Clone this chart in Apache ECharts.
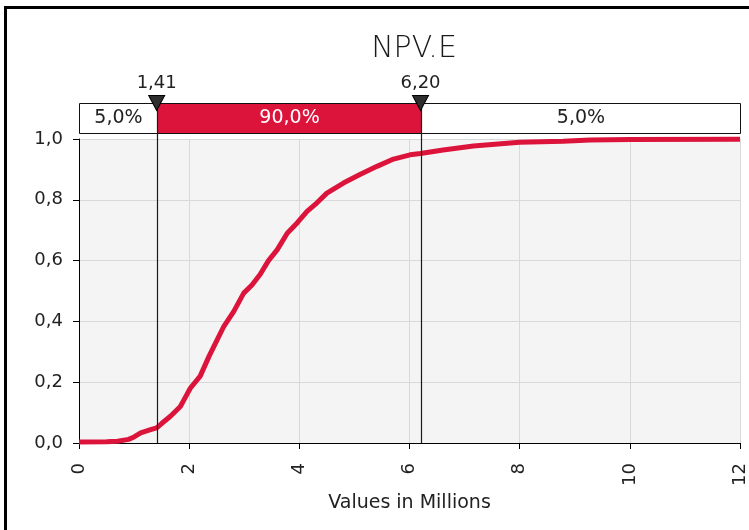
<!DOCTYPE html>
<html><head><meta charset="utf-8">
<script src="https://cdn.jsdelivr.net/npm/echarts@6/dist/echarts.min.js"></script>
<style>html,body{margin:0;padding:0;background:#fff}#c{width:749px;height:530px}</style>
</head><body><div id="c"></div>
<script>
// ---- data ----
const curveX = [0, 0.5, 0.7, 0.9, 1.0, 1.12, 1.3, 1.41, 1.5, 1.66, 1.84, 1.93, 2.02, 2.2, 2.36, 2.51, 2.63, 2.81, 2.99, 3.14, 3.29, 3.44, 3.6, 3.78, 3.96, 4.14, 4.32, 4.5, 4.8, 5.1, 5.41, 5.71, 6.01, 6.2, 6.61, 7.16, 8.0, 8.79, 9.28, 10.0, 12.0];
const curveY = [0.003, 0.004, 0.006, 0.012, 0.02, 0.033, 0.044, 0.05, 0.064, 0.088, 0.12, 0.15, 0.18, 0.22, 0.285, 0.34, 0.384, 0.433, 0.493, 0.52, 0.555, 0.6, 0.636, 0.69, 0.724, 0.762, 0.79, 0.822, 0.855, 0.883, 0.91, 0.934, 0.948, 0.952, 0.964, 0.977, 0.989, 0.993, 0.997, 0.998, 0.999];
const markerValues = [1.41, 6.20];
const markerLabels = ['1,41', '6,20'];
const bandStarts = [0, 1.41, 6.20];
const bandEnds = [1.41, 6.20, 12];
const bandLabels = ['5,0%', '90,0%', '5,0%'];
const bandHighlighted = [false, true, false];
const titleText = 'NPV.E';
const xAxisName = 'Values in Millions';

// ---- chart ----
const FONT = 'DejaVu Sans';
const RED = '#DC143C';
const TXT = '#222';
const chart = echarts.init(document.getElementById('c'), null, {renderer: 'canvas'});
const px = v => Math.round(v) + 0.5;

const hiddenAxis = {show: false};
chart.setOption({
  animation: false,
  title: {
    text: titleText, left: 409, top: 29, textAlign: 'center',
    textStyle: {fontFamily: FONT, fontSize: 30, fontWeight: 200, color: '#1a1a1a'}
  },
  graphic: [{
    type: 'rect', silent: true, z: 100,
    shape: {x: 5.5, y: 7.5, width: 900, height: 900},
    style: {fill: null, stroke: '#000', lineWidth: 3}
  }],
  grid: [
    {left: 79, right: 9, top: 139, bottom: 87, show: true, backgroundColor: '#f4f4f4', borderWidth: 0},
    {left: 79, right: 9, top: 103, height: 30},
    {left: 79, right: 9, top: 103, bottom: 87}
  ],
  xAxis: [
    {
      type: 'value', gridIndex: 0, min: 0, max: 12, interval: 2,
      axisLine: {show: true, lineStyle: {color: '#000', width: 1}},
      axisTick: {show: true, length: 6, lineStyle: {color: '#000'}},
      axisLabel: {rotate: 90, margin: 20, fontFamily: FONT, fontSize: 18, color: TXT},
      splitLine: {show: true, lineStyle: {color: '#d9d9d9', width: 1}},
      name: xAxisName, nameLocation: 'middle', nameGap: 50,
      nameTextStyle: {fontFamily: FONT, fontSize: 19, color: TXT}
    },
    Object.assign({type: 'value', gridIndex: 1, min: 0, max: 12}, hiddenAxis),
    Object.assign({type: 'value', gridIndex: 2, min: 0, max: 12}, hiddenAxis)
  ],
  yAxis: [
    {
      type: 'value', gridIndex: 0, min: 0, max: 1, interval: 0.2,
      axisLine: {show: true, lineStyle: {color: '#000', width: 1}},
      axisTick: {show: true, length: 6, lineStyle: {color: '#000'}},
      axisLabel: {margin: 16, fontFamily: FONT, fontSize: 18, color: TXT,
        formatter: v => v.toFixed(1).replace('.', ',')},
      splitLine: {show: true, lineStyle: {color: '#d9d9d9', width: 1}}
    },
    Object.assign({type: 'value', gridIndex: 1, min: 0, max: 1}, hiddenAxis),
    Object.assign({type: 'value', gridIndex: 2, min: 0, max: 1}, hiddenAxis)
  ],
  series: [
    {
      type: 'line', xAxisIndex: 0, yAxisIndex: 0, z: 3, clip: false,
      data: curveX.map((x, i) => [x, curveY[i]]),
      showSymbol: false, symbol: 'none',
      lineStyle: {color: RED, width: 5}
    },
    {
      type: 'custom', xAxisIndex: 1, yAxisIndex: 1, z: 4,
      data: bandStarts.map((s, i) => [s, bandEnds[i], i]),
      encode: {x: [0, 1]},
      renderItem: (params, api) => {
        const a = api.coord([api.value(0), 1]);
        const b = api.coord([api.value(1), 0]);
        const i = api.value(2);
        const x0 = px(a[0]), y0 = px(a[1]), x1 = px(b[0]), y1 = px(b[1]);
        return {
          type: 'rect',
          shape: {x: x0, y: y0, width: x1 - x0, height: y1 - y0},
          style: {fill: bandHighlighted[i] ? RED : '#fff', stroke: '#111', lineWidth: 1},
          textContent: {style: {text: bandLabels[i], fill: bandHighlighted[i] ? '#fff' : TXT,
            font: '19px "' + FONT + '"'}},
          textConfig: {position: 'inside'}
        };
      }
    },
    {
      type: 'custom', xAxisIndex: 2, yAxisIndex: 2, z: 6,
      data: markerValues.map(v => [v]),
      encode: {x: 0},
      renderItem: (params, api) => {
        const a = api.coord([api.value(0), 1]);
        const b = api.coord([api.value(0), 0]);
        const x = px(a[0]);
        return {type: 'line', shape: {x1: x, y1: a[1], x2: x, y2: b[1]},
          style: {stroke: '#1a1a1a', lineWidth: 1.2}};
      }
    },
    {
      type: 'scatter', xAxisIndex: 1, yAxisIndex: 1, z: 7, clip: false,
      data: markerValues.map(v => [v, 1]),
      symbol: 'triangle', symbolRotate: 180, symbolSize: [16, 15],
      itemStyle: {color: '#2e2e2e', borderColor: '#000', borderWidth: 1, opacity: 1},
      label: {show: true, position: 'top', distance: 3, fontFamily: FONT, fontSize: 18, color: TXT,
        formatter: p => markerLabels[p.dataIndex]}
    }
  ]
});
</script>
</body></html>
